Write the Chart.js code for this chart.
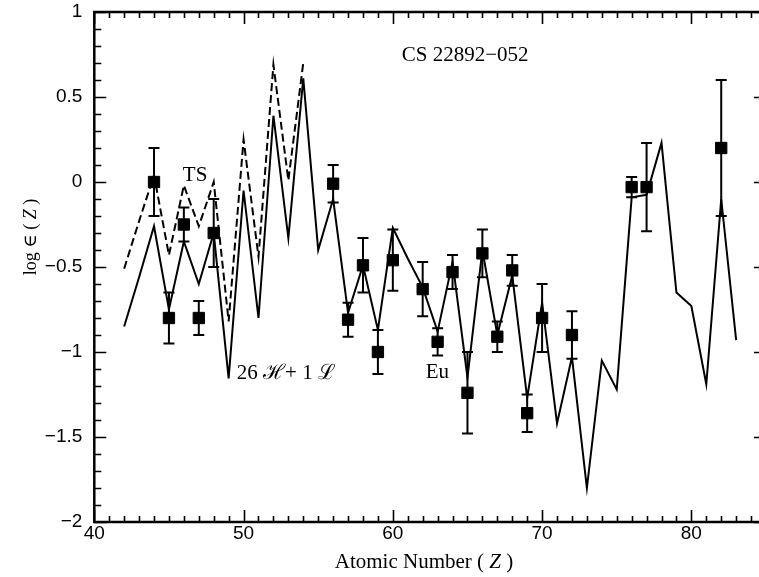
<!DOCTYPE html>
<html>
<head>
<meta charset="utf-8">
<script src="https://cdn.jsdelivr.net/npm/chart.js@4/dist/chart.umd.min.js"></script>
<style>
html,body{margin:0;padding:0;background:#fff;overflow:hidden;width:759px;height:577px;}
canvas{display:block;}
</style>
</head>
<body>
<canvas id="c" width="775" height="577"></canvas>
<script>
// Observed abundances (squares with error bars)
const obsZ   = [44, 45, 46, 47, 48, 56, 57, 58, 59, 60, 62, 63, 64, 65, 66, 67, 68, 69, 70, 72, 76, 77, 82];
const obsVal = [0.00, -0.80, -0.25, -0.80, -0.30, -0.01, -0.81, -0.49, -1.00, -0.46, -0.63, -0.94, -0.53, -1.24, -0.42, -0.91, -0.52, -1.36, -0.80, -0.90, -0.03, -0.03, 0.20];
const obsErr = [0.20, 0.15, 0.10, 0.10, 0.20, 0.11, 0.10, 0.16, 0.13, 0.18, 0.16, 0.08, 0.10, 0.24, 0.14, 0.09, 0.09, 0.11, 0.20, 0.14, 0.06, 0.26, 0.40];

// 26 H + 1 L model (solid)
const modelZ   = [42, 43, 44, 45, 46, 47, 48, 49, 50, 51, 52, 53, 54, 55, 56, 57, 58, 59, 60, 61, 62, 63, 64, 65, 66, 67, 68, 69, 70, 71, 72, 73, 74, 75, 76, 77, 78, 79, 80, 81, 82, 83];
const modelVal = [-0.85, -0.56, -0.26, -0.75, -0.35, -0.60, -0.30, -1.155, -0.05, -0.80, 0.39, -0.33, 0.61, -0.40, -0.10, -0.77, -0.49, -0.87, -0.27, -0.45, -0.62, -0.88, -0.47, -1.15, -0.40, -0.90, -0.55, -1.27, -0.71, -1.42, -1.03, -1.80, -1.05, -1.22, -0.09, -0.075, 0.23, -0.65, -0.73, -1.19, -0.10, -0.93];

// TS (dashed)
const tsZ   = [42, 43, 44, 45, 46, 47, 48, 49, 50, 51, 52, 53, 54];
const tsVal = [-0.51, -0.23, 0.04, -0.43, -0.02, -0.26, 0.00, -0.82, 0.25, -0.44, 0.69, 0.01, 0.70];

// Axis ticks
const xTickValues = [40, 50, 60, 70, 80];
const xTickLabels = ['40', '50', '60', '70', '80'];
const yTickValues = [-2, -1.5, -1, -0.5, 0, 0.5, 1];
const yTickLabels = ['\u22122', '\u22121.5', '\u22121', '\u22120.5', '0', '0.5', '1'];

// Text annotations (placed in data coordinates)
const notes = [
  {text: 'CS 22892\u2212052', x: 60.6, y: 0.745},
  {text: 'TS', x: 45.93, y: 0.04},
  {text: '26 \u210B+ 1 \u2112', x: 49.55, y: -1.125},
  {text: 'Eu', x: 62.2, y: -1.12}
];

const SERIF = '"Liberation Serif", "DejaVu Serif", serif';
const SANS = '"Liberation Sans", Arial, sans-serif';

const pts = (xs, ys) => xs.map((x, i) => ({x: x, y: ys[i]}));

const framePlugin = {
  id: 'frame',
  afterDatasetsDraw(chart) {
    const {ctx, chartArea: a, scales: {x, y}} = chart;
    ctx.save();
    ctx.strokeStyle = '#000';
    // error bars
    ctx.lineWidth = 2;
    obsZ.forEach((z, i) => {
      const px = x.getPixelForValue(z);
      const top = y.getPixelForValue(obsVal[i] + obsErr[i]);
      const bot = y.getPixelForValue(obsVal[i] - obsErr[i]);
      ctx.beginPath();
      ctx.moveTo(px, top); ctx.lineTo(px, bot);
      ctx.moveTo(px - 5.5, top); ctx.lineTo(px + 5.5, top);
      ctx.moveTo(px - 5.5, bot); ctx.lineTo(px + 5.5, bot);
      ctx.stroke();
    });
    // ticks
    ctx.lineWidth = 1.6;
    ctx.beginPath();
    for (let v = x.min; v <= x.max + 1e-9; v += 1) {
      const px = Math.round(x.getPixelForValue(v)) + 0.5;
      const len = (Math.round(v) % 10 === 0) ? 12 : 6;
      ctx.moveTo(px, a.bottom); ctx.lineTo(px, a.bottom - len);
      ctx.moveTo(px, a.top); ctx.lineTo(px, a.top + len);
    }
    for (let k = -20; k <= 10; k++) {
      const v = k / 10;
      const py = Math.round(y.getPixelForValue(v)) + 0.5;
      const major = (k % 5 === 0);
      const len = major ? 12 : 7;
      ctx.moveTo(a.left, py); ctx.lineTo(a.left + len, py);
      if (major) { ctx.moveTo(a.right, py); ctx.lineTo(a.right - 12, py); }
    }
    ctx.stroke();
    // frame
    ctx.lineWidth = 2.5;
    ctx.strokeRect(a.left, a.top, a.right - a.left, a.bottom - a.top);
    ctx.restore();
  },
  afterDraw(chart) {
    const {ctx, chartArea: a, scales: {x, y}} = chart;
    ctx.save();
    ctx.fillStyle = '#000';
    ctx.textBaseline = 'middle';
    ctx.textAlign = 'left';
    ctx.font = '21px ' + SERIF;
    notes.forEach(n => ctx.fillText(n.text, x.getPixelForValue(n.x), y.getPixelForValue(n.y)));

    const drawMixed = (parts, cx, cy) => {
      let total = 0;
      parts.forEach(p => { ctx.font = p[1]; total += ctx.measureText(p[0]).width; });
      let cur = cx - total / 2;
      parts.forEach(p => { ctx.font = p[1]; ctx.fillText(p[0], cur, cy); cur += ctx.measureText(p[0]).width; });
    };
    const n = '21px ' + SERIF, it = 'italic 21px ' + SERIF;
    drawMixed([['Atomic Number ( ', n], ['Z', it], [' )', n]], 424, 562);
    // y title: log ∈ ( Z )
    const n2 = '18px ' + SERIF, it2 = 'italic 18px ' + SERIF;
    ctx.translate(31, 237);
    ctx.rotate(-Math.PI / 2);
    drawMixed([['log \u2208 ( ', n2], ['Z', it2], [' )', n2]], 0, 0);
    ctx.restore();
  }
};

new Chart(document.getElementById('c'), {
  type: 'scatter',
  data: {
    datasets: [
      {
        label: 'observed',
        data: pts(obsZ, obsVal),
        showLine: false,
        pointStyle: 'rect',
        pointRadius: 8,
        backgroundColor: '#000',
        borderColor: '#000',
        borderWidth: 1
      },
      {
        label: '26 H + 1 L',
        data: pts(modelZ, modelVal),
        showLine: true,
        borderColor: '#000',
        borderWidth: 2,
        pointRadius: 0,
        tension: 0,
        fill: false
      },
      {
        label: 'TS',
        data: pts(tsZ, tsVal),
        showLine: true,
        borderColor: '#000',
        borderWidth: 2,
        borderDash: [8, 4],
        pointRadius: 0,
        tension: 0,
        fill: false
      }
    ]
  },
  options: {
    responsive: false,
    animation: false,
    devicePixelRatio: 1,
    layout: {padding: {left: 0, top: 12, right: 3.6, bottom: 0}},
    plugins: {legend: {display: false}, tooltip: {enabled: false}},
    scales: {
      x: {
        type: 'linear', min: 40, max: 85,
        grid: {display: false, drawTicks: false},
        border: {display: false},
        afterBuildTicks: s => { s.ticks = xTickValues.map(v => ({value: v})); },
        afterFit: s => { s.height = 55; },
        ticks: {
          padding: 0,
          color: '#000',
          font: {family: SANS, size: 19},
          callback: v => { const i = xTickValues.indexOf(v); return i >= 0 ? xTickLabels[i] : ''; }
        }
      },
      y: {
        type: 'linear', min: -2, max: 1,
        grid: {display: false, drawTicks: false},
        border: {display: false},
        afterBuildTicks: s => { s.ticks = yTickValues.map(v => ({value: v})); },
        afterFit: s => { s.width = 94.3; s.paddingTop = 0; s.paddingBottom = 0; },
        ticks: {
          padding: 12,
          color: '#000',
          font: {family: SANS, size: 19},
          callback: v => { const i = yTickValues.indexOf(v); return i >= 0 ? yTickLabels[i] : ''; }
        }
      }
    }
  },
  plugins: [framePlugin]
});
</script>
</body>
</html>
